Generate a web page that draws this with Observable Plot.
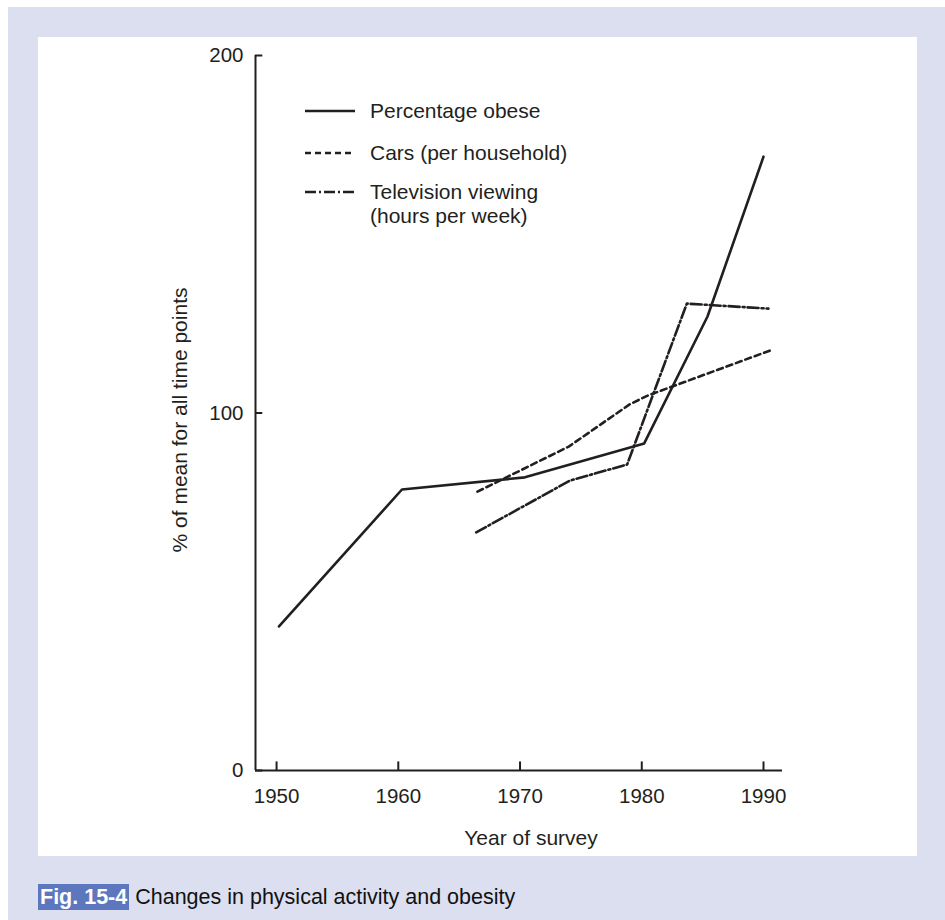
<!DOCTYPE html>
<html>
<head>
<meta charset="utf-8">
<script src="https://cdn.jsdelivr.net/npm/d3@7"></script>
<script src="https://cdn.jsdelivr.net/npm/@observablehq/plot@0.6"></script>
<style>
  html, body { margin: 0; padding: 0; background: #fff; }
  body { width: 945px; height: 920px; position: relative; overflow: hidden;
         font-family: "Liberation Sans", Arial, Helvetica, sans-serif; color: #231f20; }
  #outer { position: absolute; left: 8px; top: 7px; width: 937px; height: 913px; background: #dbdff0; }
  #panel { position: absolute; left: 30px; top: 30px; width: 879px; height: 819px; background: #fff; }
  #chart { position: absolute; left: 0; top: 0; }
  .leg { position: absolute; font-size: 21px; line-height: 24px; white-space: nowrap; }
  .sw { position: absolute; }
  #caption { position: absolute; left: 30px; top: 877px; font-size: 21.5px; line-height: 26px; white-space: nowrap; color: #111; }
  #caption .fig { background: #5d77bf; color: #fff; font-weight: bold; padding: 1px 2px 1px 2px; }
</style>
</head>
<body>
<div id="outer">
  <div id="panel">
    <div id="chart"></div>
    <svg class="sw" style="left:267px;top:68px" width="52" height="12"><line x1="0" x2="50" y1="6" y2="6" stroke="#231f20" stroke-width="2.4"/></svg>
    <div class="leg" style="left:332px;top:62px">Percentage obese</div>
    <svg class="sw" style="left:267px;top:110px" width="52" height="12"><line x1="0" x2="50" y1="6" y2="6" stroke="#231f20" stroke-width="2.4" stroke-dasharray="6,4"/></svg>
    <div class="leg" style="left:332px;top:104px">Cars (per household)</div>
    <svg class="sw" style="left:267px;top:149px" width="52" height="12"><line x1="0" x2="50" y1="6" y2="6" stroke="#231f20" stroke-width="2.4" stroke-dasharray="11,3,2,3"/></svg>
    <div class="leg" style="left:332px;top:143px">Television viewing<br>(hours per week)</div>
  </div>
  <div id="caption"><span class="fig">Fig. 15-4</span> Changes in physical activity and obesity</div>
</div>
<script>
// ---- data ----
const obeseYears  = [1950.2, 1960.3, 1970.4, 1980.2, 1985.4, 1990.0];
const obeseValues = [40.3, 78.6, 82.0, 91.5, 127.0, 171.7];

const carYears  = [1966.5, 1974.0, 1979.0, 1980.5, 1990.8];
const carValues = [78.0, 90.6, 102.4, 104.9, 117.8];

const tvYears  = [1966.4, 1974.1, 1978.8, 1983.7, 1990.4];
const tvValues = [66.6, 81.1, 85.6, 130.6, 129.2];

const xTicks = [1950, 1960, 1970, 1980, 1990];
const yTicks = [0, 100, 200];
const xDomain = [1948.27, 1991.56];
const yDomain = [0, 200];
const xLabel = "Year of survey";
const yLabel = "% of mean for all time points";

const ink = "#231f20";
const toRows = (xs, ys) => xs.map((x, i) => ({year: x, value: ys[i]}));
const obese = toRows(obeseYears, obeseValues);
const cars = toRows(carYears, carValues);
const tv = toRows(tvYears, tvValues);

const chart = Plot.plot({
  width: 879,
  height: 819,
  marginLeft: 217,
  marginRight: 135,
  marginTop: 18,
  marginBottom: 86,
  style: {fontFamily: '"Liberation Sans", Arial, Helvetica, sans-serif', fontSize: "20px", color: ink, background: "transparent"},
  x: {domain: xDomain, axis: null},
  y: {domain: yDomain, axis: null},
  marks: [
    // axis lines
    Plot.ruleY([0], {x1: xDomain[0], x2: xDomain[1], stroke: ink, strokeWidth: 2}),
    Plot.ruleX([xDomain[0]], {y1: yDomain[0], y2: yDomain[1], stroke: ink, strokeWidth: 2}),
    // inward ticks
    Plot.ruleX(xTicks, {x: d => d, y1: 0, y2: 2.4, stroke: ink, strokeWidth: 2}),
    Plot.ruleY(yTicks, {y: d => d, x1: xDomain[0], x2: xDomain[0] + 0.6, stroke: ink, strokeWidth: 2}),
    // tick labels
    Plot.axisX(xTicks, {tickSize: 0, tickPadding: 18, tickFormat: d => String(d), fontSize: 20.5, fill: ink, label: null}),
    Plot.axisY(yTicks, {tickSize: 0, tickPadding: 12, tickFormat: d => String(d), fontSize: 20.5, fill: ink, label: null}),
    // axis titles
    Plot.text([xLabel], {frameAnchor: "bottom", dx: 12, dy: 68, fontSize: 21, fill: ink, lineAnchor: "middle", textAnchor: "middle"}),
    Plot.text([yLabel], {frameAnchor: "left", dx: -75, dy: 7, rotate: -90, fontSize: 21, fill: ink, lineAnchor: "middle", textAnchor: "middle"}),
    // series
    Plot.line(cars, {x: "year", y: "value", stroke: ink, strokeWidth: 2.6, strokeDasharray: "6,4"}),
    Plot.line(tv, {x: "year", y: "value", stroke: ink, strokeWidth: 2.6, strokeDasharray: "11,3,2,3"}),
    Plot.line(obese, {x: "year", y: "value", stroke: ink, strokeWidth: 2.6})
  ]
});
document.getElementById("chart").appendChild(chart);
</script>
</body>
</html>
